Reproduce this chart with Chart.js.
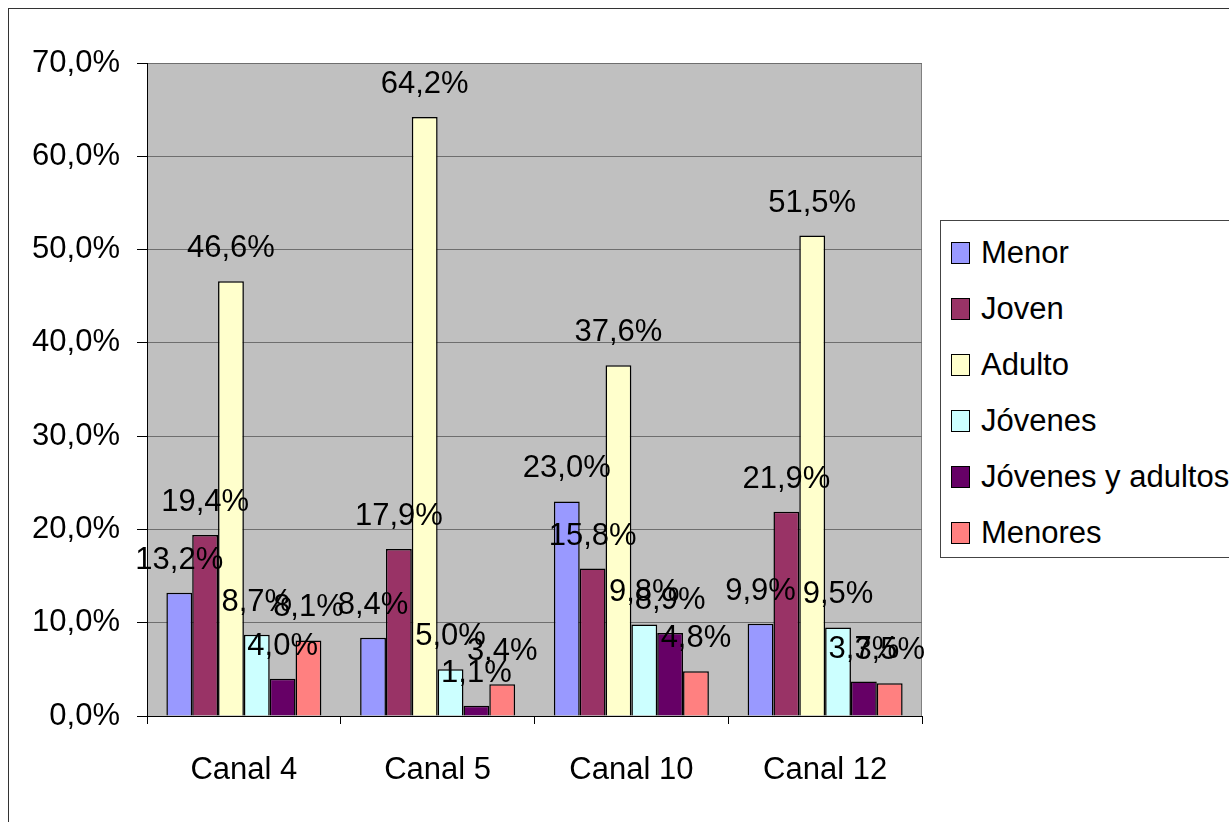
<!DOCTYPE html>
<html>
<head>
<meta charset="utf-8">
<script src="https://cdn.jsdelivr.net/npm/chart.js@4.4.0/dist/chart.umd.min.js"></script>
<style>
  html, body { margin: 0; padding: 0; background: #fff; }
  #wrap { position: relative; width: 1229px; height: 822px; overflow: hidden; }
  #frame { position: absolute; left: 8px; top: 8px; width: 1240px; height: 840px; border: 1px solid #333; box-sizing: border-box; }
  canvas { position: absolute; left: 0; top: 0; }
  #legend { position: absolute; left: 940px; top: 220px; width: 320px; height: 338px; border: 1px solid #444; box-sizing: border-box; background: #fff;
            font-family: "Liberation Sans", Arial, sans-serif; font-size: 31px; color: #000; }
  .item { position: absolute; left: 10px; height: 40px; line-height: 40px; white-space: nowrap; }
  .sw { position: absolute; left: 0; top: 9px; width: 19px; height: 22px; border: 1px solid #000; box-sizing: border-box; }
  .lt { position: absolute; left: 30px; top: 0; }
</style>
</head>
<body>
<div id="wrap">
  <div id="frame"></div>
  <canvas id="c" width="1229" height="822"></canvas>
  <div id="legend"></div>
</div>
<script>
const categories = ["Canal 4", "Canal 5", "Canal 10", "Canal 12"];
const seriesNames = ["Menor", "Joven", "Adulto", "Jóvenes", "Jóvenes y adultos", "Menores"];
const menor = [13.2, 8.4, 23.0, 9.9];
const joven = [19.4, 17.9, 15.8, 21.9];
const adulto = [46.6, 64.2, 37.6, 51.5];
const jovenes = [8.7, 5.0, 9.8, 9.5];
const jovenesAdultos = [4.0, 1.1, 8.9, 3.7];
const menores = [8.1, 3.4, 4.8, 3.5];
const yTicks = [0, 10, 20, 30, 40, 50, 60, 70];
const colors = ["#9999FF", "#993366", "#FFFFCC", "#CCFFFF", "#660066", "#FF8080"];

const seriesValues = [menor, joven, adulto, jovenes, jovenesAdultos, menores];
const fmt = v => v.toFixed(1).replace('.', ',') + '%';
const FONT = '"Liberation Sans", Arial, sans-serif';

const bgPlugin = {
  id: 'bg',
  beforeDraw(chart) {
    const { ctx, chartArea: a } = chart;
    ctx.save();
    ctx.fillStyle = '#C0C0C0';
    ctx.fillRect(a.left, a.top, a.right - a.left, a.bottom - a.top);
    ctx.strokeStyle = '#808080';
    ctx.lineWidth = 1;
    ctx.strokeRect(a.left + 0.5, a.top + 0.5, a.right - a.left - 1, a.bottom - a.top);
    ctx.restore();
  }
};

const labelPlugin = {
  id: 'vlabels',
  afterDatasetsDraw(chart) {
    const { ctx } = chart;
    ctx.save();
    ctx.font = '31px ' + FONT;
    ctx.fillStyle = '#000';
    ctx.textAlign = 'center';
    ctx.textBaseline = 'bottom';
    chart.data.datasets.forEach((ds, di) => {
      const meta = chart.getDatasetMeta(di);
      meta.data.forEach((bar, i) => {
        ctx.fillText(fmt(ds.data[i]), bar.x, bar.y - 17);
      });
    });
    ctx.restore();
  }
};

new Chart(document.getElementById('c'), {
  type: 'bar',
  data: {
    labels: categories,
    datasets: seriesNames.map((n, i) => ({
      label: n,
      data: seriesValues[i],
      backgroundColor: colors[i],
      borderColor: '#000',
      borderWidth: 1.5,
      categoryPercentage: 0.8,
      barPercentage: 1.0
    }))
  },
  options: {
    responsive: false,
    animation: false,
    layout: { padding: { left: 0, top: 63, right: 307, bottom: 0 } },
    plugins: { legend: { display: false }, tooltip: { enabled: false } },
    scales: {
      x: {
        grid: { offset: true, drawOnChartArea: false, drawTicks: true, tickLength: 8, color: '#000' },
        border: { color: '#000', width: 1 },
        ticks: { font: { family: FONT, size: 31 }, color: '#000', padding: 28 },
        afterFit(s) { s.height = 106; }
      },
      y: {
        min: 0, max: 70,
        afterBuildTicks(s) { s.ticks = yTicks.map(v => ({ value: v })); },
        grid: { color: '#6e6e6e', tickLength: 10, tickColor: '#000' },
        border: { color: '#000', width: 1 },
        ticks: { font: { family: FONT, size: 31 }, color: '#000', padding: 17, callback: v => fmt(v) },
        afterFit(s) { s.width = 147; }
      }
    }
  },
  plugins: [bgPlugin, labelPlugin]
});

const lg = document.getElementById('legend');
seriesNames.forEach((n, i) => {
  const it = document.createElement('div');
  it.className = 'item';
  it.style.top = (12 + i * 56) + 'px';
  it.innerHTML = '<span class="sw" style="background:' + colors[i] + '"></span><span class="lt">' + n + '</span>';
  lg.appendChild(it);
});
</script>
</body>
</html>
